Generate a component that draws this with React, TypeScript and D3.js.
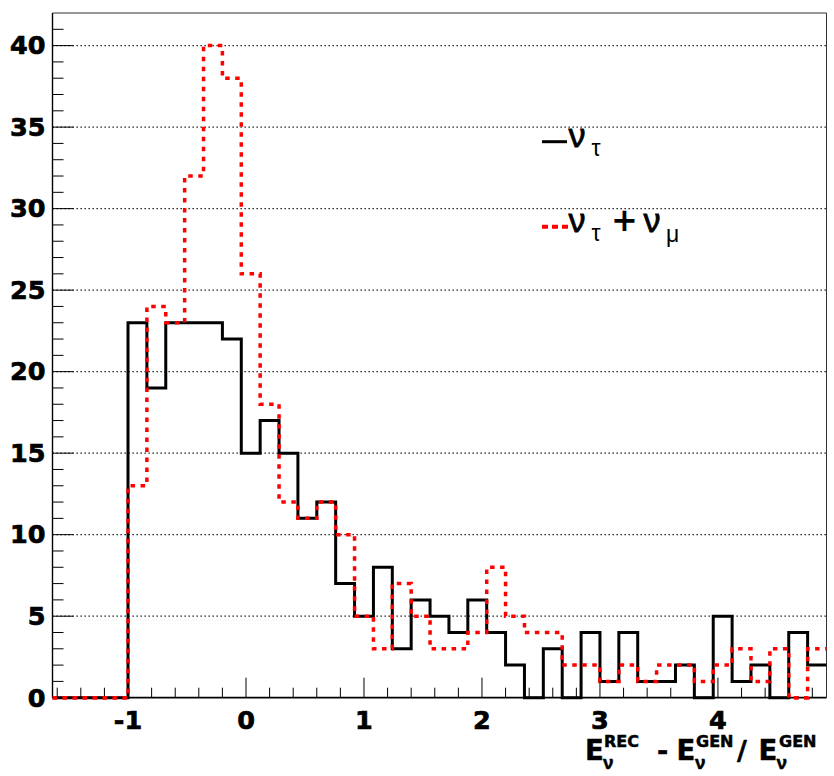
import React from "react";
import * as d3 from "d3";

// histogram binning
const binLow = -1.64;
const binWidth = 0.16;
const nBins = 41;

// bin contents
const nuTau = [
  0, 0, 0, 0, 23, 19, 23, 23, 23, 22, 15, 17, 15, 11, 12, 7, 5, 8, 3, 6, 5, 4,
  6, 4, 2, 0, 3, 0, 4, 1, 4, 1, 1, 2, 0, 5, 1, 2, 0, 4, 2,
];
const nuTauNuMu = [
  0, 0, 0, 0, 13, 24, 23, 32, 40, 38, 26, 18, 12, 11, 12, 10, 5, 3, 7, 5, 3, 3,
  4, 8, 5, 4, 4, 2, 2, 1, 2, 1, 2, 2, 1, 2, 3, 1, 3, 0, 3,
];

const xTicks = [-1, 0, 1, 2, 3, 4];
const yTicks = [0, 5, 10, 15, 20, 25, 30, 35, 40];

const width = 834;
const height = 776;
const margin = { top: 13, right: 7.5, bottom: 78.3, left: 52.5 };

const font = "'DejaVu Sans', sans-serif";
const greek = "'Liberation Sans', Arial, sans-serif";

const App = () => {
  const xMax = binLow + binWidth * nBins;
  const x = d3
    .scaleLinear()
    .domain([binLow, xMax])
    .range([margin.left, width - margin.right]);
  const y = d3
    .scaleLinear()
    .domain([0, 42])
    .range([height - margin.bottom, margin.top]);

  const x0 = x.range()[0];
  const x1 = x.range()[1];
  const y0 = y.range()[0];
  const yTop = y.range()[1];

  // step line through the bin edges
  const stepPath = (vals: number[]) => {
    const pts: [number, number][] = vals.map((v, i) => [binLow + i * binWidth, v]);
    pts.push([xMax, vals[vals.length - 1]]);
    return d3
      .line<[number, number]>()
      .x((d) => x(d[0]))
      .y((d) => y(d[1]))
      .curve(d3.curveStepAfter)(pts) as string;
  };

  const minorX = d3.range(-1.6, 4.81, 0.2).map((v) => Math.round(v * 10) / 10);
  const minorY = d3.range(0, 42, 1);

  return (
    <svg
      width={width}
      height={height}
      style={{ position: "absolute", left: 0, top: 0, background: "#fff" }}
    >
      <defs>
        <clipPath id="bottomClip">
          <rect x={x0} y={y0 - 3} width={x1 - x0} height={6} />
        </clipPath>
      </defs>

      {/* grid */}
      {yTicks
        .filter((t) => t > 0)
        .map((t) => (
          <line
            key={"g" + t}
            x1={x0}
            x2={x1}
            y1={y(t)}
            y2={y(t)}
            stroke="#000"
            strokeWidth={1.2}
            strokeDasharray="1.3,2.7"
          />
        ))}

      {/* frame */}
      <line x1={x0} x2={x1} y1={yTop} y2={yTop} stroke="#333" strokeWidth={1} />
      <line x1={x1} x2={x1} y1={yTop} y2={y0} stroke="#333" strokeWidth={1} />

      {/* y axis */}
      <line x1={x0} x2={x0} y1={yTop} y2={y0} stroke="#000" strokeWidth={1.4} />
      {minorY.map((t) => (
        <line
          key={"ym" + t}
          x1={x0}
          x2={x0 + (t % 5 === 0 ? 21 : 11)}
          y1={y(t)}
          y2={y(t)}
          stroke="#000"
          strokeWidth={1}
        />
      ))}
      {yTicks.map((t) => (
        <text
          key={"yl" + t}
          x={45.5}
          y={y(t) + 8.8}
          textAnchor="end"
          fontFamily={font}
          fontWeight="bold"
          fontSize={25.5}
          stroke="#000"
          strokeWidth={0.7}
        >
          {t}
        </text>
      ))}

      {/* x axis */}
      {minorX.map((t) => (
        <line
          key={"xm" + t}
          x1={x(t)}
          x2={x(t)}
          y1={y0}
          y2={y0 - (Number.isInteger(t) ? 20 : 10)}
          stroke="#000"
          strokeWidth={1}
        />
      ))}
      {xTicks.map((t) => (
        <text
          key={"xl" + t}
          x={x(t)}
          y={728.5}
          textAnchor="middle"
          fontFamily={font}
          fontWeight="bold"
          fontSize={25.5}
          stroke="#000"
          strokeWidth={0.7}
        >
          {t}
        </text>
      ))}

      {/* histograms */}
      <path d={stepPath(nuTau)} fill="none" stroke="#000" strokeWidth={3} />
      <path
        d={stepPath(nuTauNuMu)}
        fill="none"
        stroke="#ff0000"
        strokeWidth={3.5}
        strokeDasharray="4.5,5.5"
      />
      <line x1={x0} x2={x1} y1={y0} y2={y0} stroke="#000" strokeWidth={1.8} />
      <path
        d={stepPath(nuTauNuMu)}
        fill="none"
        stroke="#ff0000"
        strokeWidth={3.5}
        strokeDasharray="4.5,5.5"
        clipPath="url(#bottomClip)"
      />

      {/* axis title */}
      <g fontFamily={font} fontWeight="bold" fill="#000" stroke="#000" strokeWidth={0.5}>
        <text x={585} y={760} fontSize={27.5}>E</text>
        <text x={604} y={746.7} fontSize={16}>REC</text>
        <text x={603} y={768.5} fontSize={19} fontFamily={greek}>ν</text>
        <text x={657} y={760} fontSize={27}>-</text>
        <text x={676.5} y={760} fontSize={27.5}>E</text>
        <text x={696} y={746.7} fontSize={16}>GEN</text>
        <text x={695} y={768.5} fontSize={19} fontFamily={greek}>ν</text>
        <text x={737} y={760} fontSize={27}>/</text>
        <text x={758.5} y={760} fontSize={27.5}>E</text>
        <text x={779} y={746.7} fontSize={16}>GEN</text>
        <text x={776.5} y={768.5} fontSize={19} fontFamily={greek}>ν</text>
      </g>

      {/* legend */}
      <line x1={542} x2={567} y1={141.7} y2={141.7} stroke="#000" strokeWidth={3} />
      <text x={568.5} y={147} fontFamily={greek} fontSize={34} stroke="#000" strokeWidth={0.8}>ν</text>
      <text x={591.5} y={155.5} fontFamily={greek} fontSize={23}>τ</text>

      <line
        x1={542}
        x2={568}
        y1={226.7}
        y2={226.7}
        stroke="#ff0000"
        strokeWidth={4}
        strokeDasharray="6,4"
      />
      <text x={568.5} y={232} fontFamily={greek} fontSize={34} stroke="#000" strokeWidth={0.8}>ν</text>
      <text x={591.5} y={240.5} fontFamily={greek} fontSize={23}>τ</text>
      <text x={611} y={231} fontFamily={font} fontSize={32} fontWeight="bold">+</text>
      <text x={643.5} y={232} fontFamily={greek} fontSize={34} stroke="#000" strokeWidth={0.8}>ν</text>
      <text x={666} y={241.5} fontFamily={greek} fontSize={23}>μ</text>
    </svg>
  );
};

export default App;
